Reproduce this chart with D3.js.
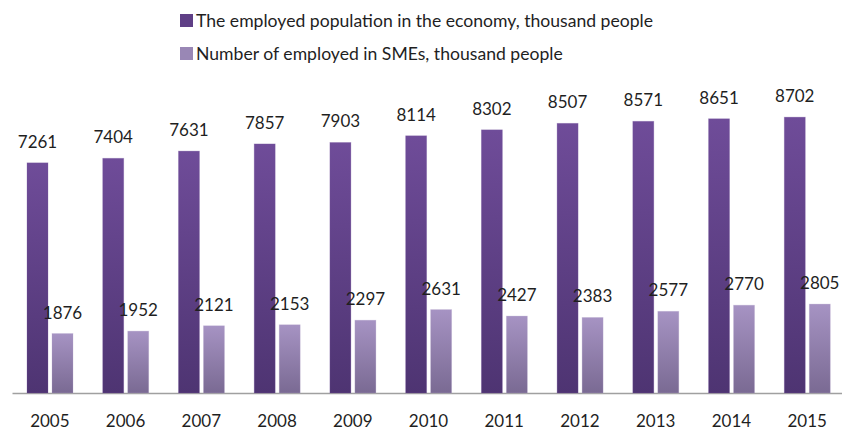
<!DOCTYPE html>
<html>
<head>
<meta charset="utf-8">
<script src="https://cdn.jsdelivr.net/npm/d3@7"></script>
<style>
  html, body { margin: 0; padding: 0; background: #fff; }
  svg text { font-family: Lato, "Open Sans", sans-serif; fill: #1f1f1f; }
</style>
</head>
<body>
<svg id="chart" width="842" height="430"></svg>
<script>
// Employment figures, thousand people
const years = ["2005", "2006", "2007", "2008", "2009", "2010", "2011", "2012", "2013", "2014", "2015"];
const employedEconomy = [7261, 7404, 7631, 7857, 7903, 8114, 8302, 8507, 8571, 8651, 8702];
const employedSMEs = [1876, 1952, 2121, 2153, 2297, 2631, 2427, 2383, 2577, 2770, 2805];
const seriesNames = [
  "The employed population in the economy, thousand people",
  "Number of employed in SMEs, thousand people"
];

const svg = d3.select("#chart");
const left = 12, right = 845, baseline = 393;

const x = d3.scaleBand().domain(years).range([left, right]).paddingInner(0).paddingOuter(0);
const y = d3.scaleLinear().domain([0, 10000]).range([baseline, baseline - 317]);

const defs = svg.append("defs");
function grad(id, top, bottom) {
  const g = defs.append("linearGradient").attr("id", id)
    .attr("x1", 0).attr("y1", 0).attr("x2", 0).attr("y2", 1);
  g.append("stop").attr("offset", "0%").attr("stop-color", top);
  g.append("stop").attr("offset", "100%").attr("stop-color", bottom);
}
grad("gDark", "#6f4c99", "#4e3472");
grad("gLight", "#a693c3", "#7a6a93");

const series = [
  { name: seriesNames[0], values: employedEconomy, fill: "url(#gDark)", swatch: "#5f3f86", offset: 15 },
  { name: seriesNames[1], values: employedSMEs, fill: "url(#gLight)", swatch: "#9987b5", offset: 40 }
];
const barW = 21;

// Axis line and year labels
const axis = svg.append("g").attr("transform", `translate(0,${baseline})`)
  .call(d3.axisBottom(x).tickSize(0).tickPadding(22));
axis.select(".domain").attr("stroke", "#a0a0a0").attr("stroke-width", 1.3);
axis.selectAll("text").style("font-family", "Lato, sans-serif").style("font-size", "17px").attr("fill", "#1f1f1f");

series.forEach((s, si) => {
  const g = svg.append("g");
  g.selectAll("rect").data(years).join("rect")
    .attr("x", d => x(d) + s.offset)
    .attr("y", (d, i) => y(s.values[i]))
    .attr("width", barW)
    .attr("height", (d, i) => baseline - y(s.values[i]))
    .attr("fill", s.fill)
    .attr("stroke", si === 0 ? "#7a5ba3" : "#b8a9cf")
    .attr("stroke-opacity", 0.35)
    .attr("stroke-width", 0.8);
  g.selectAll("text").data(years).join("text")
    .attr("x", d => x(d) + s.offset + barW / 2)
    .attr("y", (d, i) => y(s.values[i]) - 15)
    .attr("text-anchor", "middle")
    .style("font-size", "17px")
    .text((d, i) => s.values[i]);
});

// Legend
const legend = svg.append("g");
series.forEach((s, i) => {
  const row = legend.append("g").attr("transform", `translate(180,${14 + i * 33})`);
  row.append("rect").attr("width", 13).attr("height", 13).attr("fill", s.swatch);
  row.append("text").attr("x", 16).attr("y", 13).style("font-size", "17.6px").text(s.name);
});
</script>
</body>
</html>
